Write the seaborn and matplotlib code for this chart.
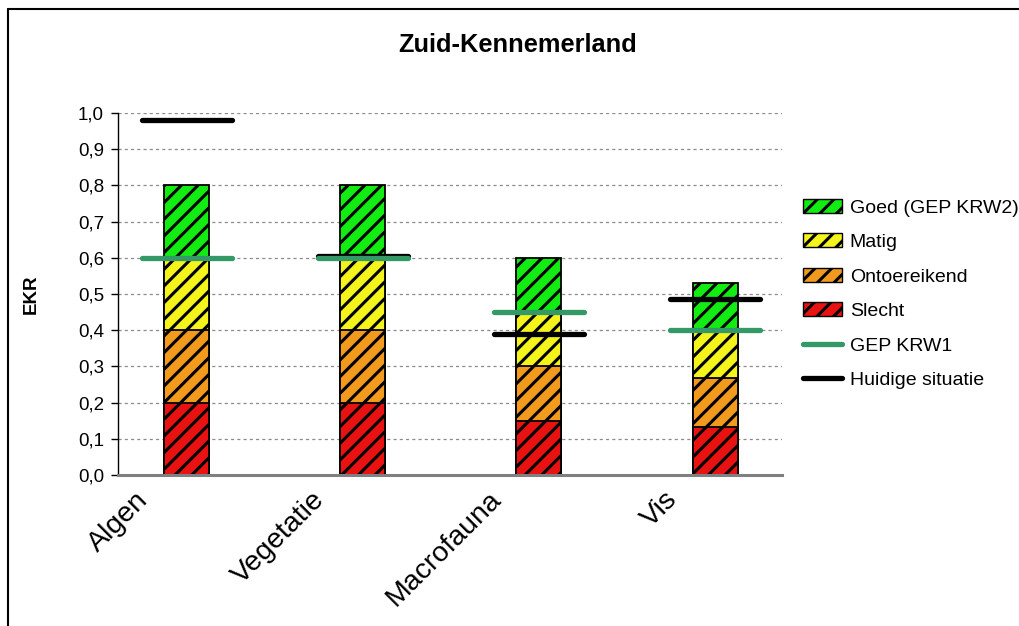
import numpy as np
import pandas as pd
import matplotlib
matplotlib.use("Agg")
import matplotlib.pyplot as plt
import matplotlib.transforms as mtransforms
from matplotlib.patches import Patch
from matplotlib.lines import Line2D
import seaborn as sns

categories = ["Algen", "Vegetatie", "Macrofauna", "Vis"]
slecht_top = [0.20, 0.20, 0.15, 0.133]
ontoereikend_top = [0.40, 0.40, 0.30, 0.267]
matig_top = [0.60, 0.60, 0.45, 0.40]
goed_top = [0.80, 0.80, 0.60, 0.53]
gep_krw1 = [0.60, 0.60, 0.45, 0.40]
huidige = [0.98, 0.605, 0.39, 0.487]
yticks = [0.0, 0.1, 0.2, 0.3, 0.4, 0.5, 0.6, 0.7, 0.8, 0.9, 1.0]

sns.set_style("white")
plt.rcParams["font.family"] = ["Liberation Sans", "DejaVu Sans"]
plt.rcParams["hatch.linewidth"] = 2.2
for k in ["text.color", "axes.labelcolor", "xtick.color", "ytick.color"]:
    plt.rcParams[k] = "black"

fig = plt.figure(figsize=(10.19, 6.26), dpi=100)
ax = fig.add_axes([118/1019, 1-475/626, (782-118)/1019, (475-113)/626])

df = pd.DataFrame({"cat": categories, "goed": goed_top, "matig": matig_top,
                   "ont": ontoereikend_top, "slecht": slecht_top})
layers = [("goed", "#12EC12", "Goed (GEP KRW2)"),
          ("matig", "#F4F41C", "Matig"),
          ("ont", "#F29A1E", "Ontoereikend"),
          ("slecht", "#E81212", "Slecht")]
for col, c, lab in layers:
    sns.barplot(data=df, x="cat", y=col, color=c, saturation=1, width=0.256,
                edgecolor="black", linewidth=1.3, hatch="//", ax=ax, zorder=3)

xs = np.arange(len(categories))
hw = 0.255
lc1 = ax.hlines(huidige, xs - hw, xs + hw, colors="black", linewidth=3.8, zorder=5)
lc1.set_capstyle("round")
lc2 = ax.hlines(gep_krw1, xs - hw, xs + hw, colors="#339966", linewidth=3.8, zorder=6)
lc2.set_capstyle("round")

ax.set_xlim(-0.39, 3.38)
ax.set_ylim(0, 1.0)
ax.set_yticks(yticks)
ax.set_yticklabels([f"{v:.1f}".replace(".", ",") for v in yticks], fontsize=13.5)
for v in yticks[1:]:
    ax.axhline(v, color="#8c8c8c", linewidth=0.9, linestyle=(0, (2.5, 2.5)), zorder=1)

ax.set_xlabel("")
ax.set_ylabel("EKR", fontsize=13.5, fontweight="bold", labelpad=0)
ax.yaxis.set_label_coords(-0.118, 0.5)
ax.tick_params(axis="y", direction="out", length=5, width=1, color="black", pad=5, left=True)
ax.tick_params(axis="x", length=0)
ax.set_xticks(xs)
ax.set_xticklabels(categories, fontsize=20.5, rotation=45, ha="right", va="center",
                   rotation_mode="anchor")
off = mtransforms.ScaledTranslation(-0.42, -0.16, fig.dpi_scale_trans)
for lbl in ax.get_xticklabels():
    lbl.set_transform(lbl.get_transform() + off)

for s in ["top", "right"]:
    ax.spines[s].set_visible(False)
ax.spines["left"].set_color("black")
ax.spines["left"].set_linewidth(1.0)
ax.spines["bottom"].set_color("#808080")
ax.spines["bottom"].set_linewidth(2.2)
ax.spines["bottom"].set_zorder(7)

fig.text(518/1019, 1-45/626, "Zuid-Kennemerland", ha="center", va="center",
         fontsize=18.3, fontweight="bold")

handles = [Patch(facecolor=c, edgecolor="black", hatch="//", linewidth=1.0, label=lab)
           for _, c, lab in layers]
handles += [Line2D([0], [0], color="#339966", linewidth=3.8, solid_capstyle="round", label="GEP KRW1"),
            Line2D([0], [0], color="black", linewidth=3.8, solid_capstyle="round", label="Huidige situatie")]
fig.legend(handles=handles, loc="upper left", bbox_to_anchor=(803/1019, 1-199/626),
           frameon=False, fontsize=14, handlelength=2.0, handleheight=0.72,
           handletextpad=0.4, labelspacing=0.86, borderpad=0, borderaxespad=0)

fig.add_artist(Line2D([8/1019, 8/1019], [0, 1-9/626], transform=fig.transFigure,
                      color="black", linewidth=1.5))
fig.add_artist(Line2D([8/1019, 1], [1-9/626, 1-9/626], transform=fig.transFigure,
                      color="black", linewidth=1.5))

fig.savefig("out.png", dpi=100)
